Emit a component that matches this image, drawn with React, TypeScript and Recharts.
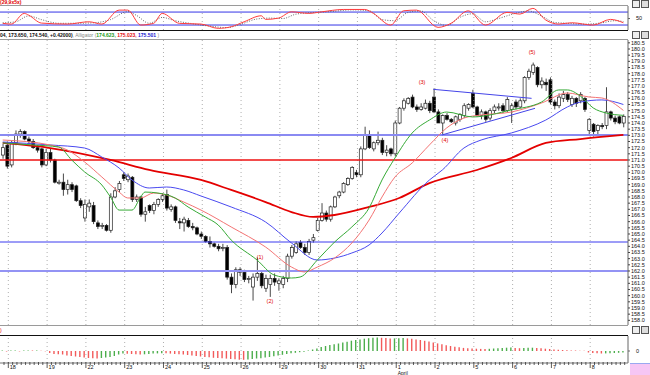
import React from "react";
import {
  ComposedChart,
  LineChart,
  Bar,
  Line,
  XAxis,
  YAxis,
  ReferenceLine,
  ReferenceDot,
  Cell,
} from "recharts";

// day labels on the time axis (9 bars per day)
const dayLabels = ["18", "19", "22", "23", "24", "25", "26", "29", "30", "31", "1", "2", "5", "6", "7", "8"];

// candles: open, high, low, close
const ohlc: number[][] = [
  [171.4, 172.3, 171.1, 172.0], [172.2, 172.5, 170.3, 170.5], [170.6, 172.6, 170.4, 172.4], [172.4, 173.4, 172.2, 173.1],
  [173.1, 173.5, 172.8, 173.3], [173.3, 173.4, 172.6, 172.7], [172.7, 172.9, 172.3, 172.5], [172.5, 172.7, 171.9, 172.0],
  [172.0, 172.2, 171.6, 171.8], [171.9, 172.0, 170.4, 170.6], [170.6, 171.9, 170.5, 171.6], [171.6, 171.9, 170.8, 171.0],
  [171.0, 171.1, 169.1, 169.2], [169.2, 169.4, 169.0, 169.2], [169.2, 169.9, 168.1, 168.6], [168.6, 169.4, 168.2, 169.0],
  [169.0, 169.2, 168.4, 168.6], [168.9, 169.0, 167.6, 167.7], [167.7, 167.9, 167.1, 167.3], [166.3, 167.8, 166.0, 167.4],
  [167.2, 167.8, 166.8, 167.5], [167.3, 167.6, 165.8, 166.0], [165.9, 166.1, 165.4, 165.6], [165.6, 165.9, 165.4, 165.7],
  [165.7, 165.8, 165.2, 165.3], [165.3, 168.3, 165.1, 168.0], [168.0, 168.8, 167.9, 168.5], [168.6, 169.3, 168.4, 169.1],
  [169.8, 170.0, 169.3, 169.5], [169.4, 169.9, 169.2, 169.7], [169.6, 169.7, 167.6, 167.8], [167.8, 168.2, 167.6, 168.0],
  [168.0, 168.1, 166.4, 166.6], [166.6, 167.2, 166.0, 166.8], [167.3, 167.4, 166.7, 166.9], [166.9, 167.6, 166.6, 167.4],
  [167.4, 167.9, 167.2, 167.8], [167.8, 168.3, 167.6, 168.1], [168.2, 168.6, 166.9, 167.1], [167.0, 167.4, 166.8, 167.2],
  [167.2, 167.3, 165.9, 166.1], [166.0, 166.3, 165.4, 165.9], [165.9, 166.4, 165.2, 166.2], [166.1, 166.3, 165.5, 165.6],
  [165.6, 165.9, 165.3, 165.5], [165.5, 165.6, 164.9, 165.0], [165.0, 165.2, 164.6, 164.8], [164.8, 164.9, 164.3, 164.4],
  [164.4, 164.8, 163.9, 164.2], [164.2, 164.3, 163.9, 164.0], [164.0, 164.2, 163.6, 163.8], [163.9, 164.2, 163.6, 163.9],
  [163.9, 164.1, 161.3, 161.5], [161.5, 161.8, 160.2, 160.9], [160.9, 162.3, 160.6, 162.1], [162.1, 162.3, 161.6, 161.9],
  [161.9, 162.1, 161.1, 161.3], [161.3, 161.6, 161.0, 161.4], [160.7, 161.8, 159.6, 161.5], [161.5, 163.1, 161.2, 161.8],
  [161.8, 162.0, 160.6, 160.8], [160.6, 161.7, 160.3, 161.4], [160.9, 161.7, 159.9, 161.4], [161.4, 161.8, 160.8, 161.1],
  [161.0, 161.4, 160.4, 161.2], [160.9, 161.6, 160.6, 161.4], [161.4, 163.4, 161.1, 163.2], [163.2, 164.1, 163.0, 163.9],
  [163.5, 164.4, 163.4, 164.2], [164.3, 164.5, 163.8, 163.9], [163.9, 164.2, 163.3, 163.5], [163.5, 164.6, 163.3, 164.4],
  [164.5, 165.0, 164.3, 164.7], [165.3, 166.3, 165.2, 166.1], [166.1, 167.5, 166.0, 166.7], [166.7, 166.9, 166.0, 166.2],
  [166.2, 167.3, 166.0, 167.2], [167.2, 168.1, 167.1, 168.0], [168.1, 168.5, 167.9, 168.4], [168.4, 169.2, 168.3, 169.1],
  [169.0, 169.6, 168.9, 169.5], [169.5, 170.5, 169.4, 170.4], [170.0, 170.2, 169.6, 169.8], [169.8, 172.1, 169.6, 171.9],
  [171.9, 173.7, 171.8, 173.0], [173.0, 173.4, 171.9, 172.0], [171.9, 172.5, 171.7, 172.4], [172.4, 173.3, 172.2, 172.6],
  [172.6, 172.8, 171.4, 171.6], [171.6, 172.2, 171.3, 171.8], [171.9, 172.0, 171.3, 171.5], [171.5, 174.2, 171.3, 174.0],
  [174.0, 175.3, 173.9, 175.2], [175.2, 176.0, 175.0, 175.8], [175.6, 176.1, 175.5, 176.0], [176.1, 176.3, 175.2, 175.3],
  [175.3, 175.5, 174.9, 175.1], [175.1, 175.6, 175.0, 175.3], [175.2, 175.9, 175.1, 175.6], [175.6, 175.8, 174.8, 175.0],
  [176.1, 176.8, 174.8, 174.9], [174.9, 175.1, 174.0, 174.0], [174.0, 174.7, 173.0, 174.6], [174.6, 174.8, 174.2, 174.3],
  [174.3, 174.4, 174.0, 174.1], [174.0, 174.6, 173.8, 174.5], [174.3, 174.8, 174.1, 174.7], [174.6, 175.6, 174.4, 175.4],
  [175.2, 175.6, 175.0, 175.5], [176.4, 176.7, 175.2, 175.3], [175.3, 175.4, 174.5, 174.6], [174.6, 175.1, 174.3, 174.9],
  [174.9, 175.0, 174.1, 174.3], [174.4, 175.2, 174.2, 175.0], [175.0, 175.5, 174.8, 175.3], [175.3, 175.6, 175.0, 175.3],
  [175.4, 175.6, 174.8, 175.0], [175.0, 176.1, 174.9, 175.9], [175.1, 175.6, 174.0, 175.4], [175.7, 175.9, 175.1, 175.3],
  [175.3, 176.0, 175.2, 175.8], [175.8, 177.8, 175.6, 177.7], [177.7, 178.4, 177.5, 178.2], [178.1, 178.9, 177.9, 178.7],
  [178.5, 178.6, 176.9, 177.1], [177.1, 177.7, 176.8, 177.4], [177.3, 177.6, 176.6, 177.1], [177.5, 177.7, 175.5, 175.7],
  [175.7, 175.9, 175.1, 175.4], [175.4, 176.4, 175.2, 176.1], [176.0, 176.6, 175.7, 176.3], [176.3, 176.5, 175.7, 175.9],
  [175.5, 176.2, 175.3, 176.0], [176.0, 176.1, 175.3, 175.6], [175.8, 176.5, 175.6, 176.3], [176.0, 176.1, 174.9, 175.1],
  [173.4, 174.4, 173.0, 174.3], [173.9, 174.0, 172.9, 173.3], [173.4, 173.9, 173.1, 173.8], [173.8, 174.0, 173.5, 173.7],
  [173.8, 176.9, 173.5, 174.9], [174.9, 175.0, 174.2, 174.4], [174.4, 174.6, 173.9, 174.1], [174.5, 174.6, 173.9, 174.0],
  [174.0, 174.7, 173.65, 174.54],
];

// alligator lines and long MA, read at [bar, price]
const lips = [
  [0, 172.38], [7, 172.22], [13, 172.05], [16, 171.0], [19, 170.03], [23, 168.97], [25, 168.0], [27, 166.94],
  [30, 166.94], [32, 168.0], [33, 168.4], [36, 168.32], [40, 167.92], [43, 167.19], [47, 166.38], [50, 165.73],
  [53, 164.51], [59, 162.89], [63, 161.67], [67, 161.43], [69, 161.51], [73, 162.89], [77, 164.35], [81, 165.57],
  [85, 167.11], [88, 169.38], [91, 171.16], [95, 173.19], [99, 174.24], [103, 174.89], [109, 174.49], [118, 175.06],
  [125, 175.7], [129, 176.68], [131, 176.68], [134, 176.19], [137, 175.22], [140, 174.81], [144, 174.62],
];
const teeth = [
  [0, 172.62], [11, 172.22], [15, 171.81], [19, 170.84], [23, 169.62], [27, 168.4], [29, 167.92], [32, 167.92],
  [35, 168.32], [38, 168.16], [42, 167.59], [46, 166.94], [53, 165.57], [61, 163.94], [67, 162.32], [70, 161.92],
  [73, 162.32], [77, 163.05], [81, 164.27], [85, 166.13], [88, 168.0], [91, 169.62], [95, 170.76], [99, 172.22],
  [103, 173.6], [107, 174.4], [111, 174.65], [118, 174.89], [125, 175.62], [131, 176.43], [136, 176.11], [139, 176.03],
  [144, 175.02],
];
const jaw = [
  [0, 172.46], [11, 172.22], [19, 171.97], [23, 171.24], [27, 170.35], [30, 169.38], [34, 168.73], [38, 168.81],
  [42, 168.57], [46, 168.08], [53, 167.19], [61, 165.97], [67, 164.27], [73, 162.89], [77, 163.05], [81, 163.46],
  [85, 164.11], [88, 165.08], [92, 166.7], [99, 169.38], [102, 170.19], [107, 171.97], [111, 172.62], [118, 173.19],
  [126, 174.24], [131, 175.3], [134, 175.7], [139, 175.87], [144, 175.5],
];
const longMa = [
  [0, 172.38], [11, 171.97], [25, 171.0], [34, 170.19], [46, 169.38], [53, 168.57], [61, 167.59], [67, 166.78],
  [72, 166.38], [77, 166.54], [85, 167.19], [92, 167.92], [99, 169.13], [110, 170.19], [118, 171.16], [126, 172.38],
  [134, 172.7], [144, 173.03],
];

// horizontal levels
const levels = [
  { p: 173.03, c: "#8a8af2", w: 2 },
  { p: 171.0, c: "#ee1111", w: 1.5 },
  { p: 164.35, c: "#3b3bef", w: 1 },
  { p: 162.0, c: "#9393f4", w: 2.2 },
];

// trend lines [bar, price] -> [bar, price]
const trends = [
  [[99.9, 176.73], [122.7, 176.0]],
  [[101.9, 173.03], [123.5, 175.19]],
];

// wave counts
const waves = [
  { t: "(1)", i: 59.7, p: 163.1 },
  { t: "(2)", i: 62.0, p: 159.6 },
  { t: "(3)", i: 97.3, p: 177.35 },
  { t: "(4)", i: 102.6, p: 172.6 },
  { t: "(5)", i: 122.8, p: 179.75 },
];

// stochastic %K and %D
const stochK = [
  [0, 27.7], [2, 24.5], [5, 73.8], [6, 66], [9, 29], [15, 24.5], [20, 35], [23, 24.5], [27, 89], [29, 89],
  [32, 20], [35, 27.7], [37, 73.8], [41, 27.7], [46, 24.5], [50, 4.6], [53, 12], [56, 35], [60, 62.8], [61, 46],
  [64, 52], [67, 81], [71, 73.8], [74, 81], [79, 92], [84, 92], [86, 73.8], [90, 19.8], [93, 85.8], [96, 89],
  [101, 9.2], [104, 27.7], [108, 85.8], [112, 19.8], [117, 78.4], [120, 70.6], [123, 97], [126, 43], [129, 24.5],
  [132, 30.5], [137, 19.8], [141, 46], [144, 30.5],
];
const stochD = [
  [0, 30], [3, 35], [6, 62], [9, 45], [13, 28], [17, 28], [21, 30], [25, 45], [29, 82], [31, 65], [34, 28],
  [37, 55], [40, 40], [44, 26], [48, 15], [52, 8], [55, 22], [59, 48], [62, 52], [65, 50], [68, 70], [72, 78],
  [76, 82], [81, 90], [85, 86], [88, 45], [91, 40], [94, 78], [97, 85], [100, 40], [103, 18], [106, 55], [109, 72],
  [112, 35], [115, 50], [119, 74], [122, 85], [125, 62], [128, 32], [131, 28], [135, 24], [139, 30], [142, 40],
  [144, 36],
];

// awesome oscillator, one per bar
const ao = [
  0.5, -0.5, 0.5, 0.6, -0.4, 0.5, 0.6, 0.4, 0.5, 0.3, -0.3,
  -2, -3, -3.3, -3.5, -4.5, -5, -5.5, -6, -6.5, -7, -7.3, -7.5,
  -7, -6.5, -6, -5, -3.5, -2.5,
  -2.8, -3, -3.2, -3.5, -3.3, -3, -2.6, -2.4, -2.2,
  -2.3, -2.6, -3, -3.3, -3.6, -4, -4.5, -5, -5.5, -6, -6.3, -6.8, -7, -7.3, -7.6, -8, -8.3, -8.7, -8.8,
  -8.5, -8, -7.5, -7.2, -6.5, -6, -5.2, -4.5, -3.8, -3, -2.2, -1.8, -1.2, -0.8,
  0.5, 1.5, 2.5, 4, 5, 6, 6.7, 7.5, 8.5, 9.3, 10.3, 11, 11.5, 12.3, 12.8, 13.3, 13.5,
  13.2, 12.9, 12.5, 12.6, 12.8, 13, 12.6, 12.2, 11.6, 11, 10.2, 9.4, 8.5, 7.6, 6.7, 5.8, 5, 4.3, 3.7, 3.1, 2.7, 2.5, 2.3, 2.1, 2.0,
  2.2, 2.5, 2.8, 3.1, 3.3, 3.4, 3.1, 2.8, 3.0, 3.2, 3.3, 3.0, 2.7, 2.3, 2.0, 1.6, 1.3, 1.0, 0.8, 0.6, 0.5, 0.3, 0.2,
  -1.5, -2, -2.3, -2.5, -2.4, -2.2, -2.0, -1.8, -1.6,
];

const FONT = "'Liberation Sans', Arial, sans-serif";
const X_DOMAIN: [number, number] = [-0.63, 145.07];
const dayLines = dayLabels.map((_, d) => 1.3 + 9 * d);
const barTicks = Array.from({ length: 145 }, (_, k) => k + 0.3);
const priceTicks = Array.from({ length: 46 }, (_, k) => 158 + k * 0.5);

const rows = ohlc.map(([o, h, l, c], i) => ({
  i, o, h, l, c, ao: ao[i],
  lips: null as number | null, teeth: null as number | null, jaw: null as number | null, ma: null as number | null,
}));
lips.forEach(([i, v]) => (rows[i].lips = v));
teeth.forEach(([i, v]) => (rows[i].teeth = v));
jaw.forEach(([i, v]) => (rows[i].jaw = v));
longMa.forEach(([i, v]) => (rows[i].ma = v));

const stochRows = ohlc.map((_, i) => ({ i, k: null as number | null, d: null as number | null }));
stochK.forEach(([i, v]) => (stochRows[i].k = v));
stochD.forEach(([i, v]) => (stochRows[i].d = v));

const Candle = (props: any) => {
  const { x, y, width, height, payload } = props;
  if (x == null || !payload) return null;
  const top = Math.min(y, y + height);
  const hh = Math.abs(height);
  const k = hh / (payload.h - payload.l || 1);
  const up = payload.c >= payload.o;
  const bTop = top + (payload.h - Math.max(payload.o, payload.c)) * k;
  const bH = Math.max(1, Math.abs(payload.o - payload.c) * k);
  const cx = x + width / 2;
  return (
    <g>
      <line x1={cx} x2={cx} y1={top} y2={top + hh} stroke="#333" strokeWidth={0.9} />
      <rect x={x} y={bTop} width={width} height={bH} fill={up ? "#fff" : "#000"} stroke="#222" strokeWidth={0.7} />
    </g>
  );
};

const TimeTick = (props: any) => {
  const { x, y, payload } = props;
  const k = Math.round(payload.value - 0.3);
  const isDay = k >= 1 && (k - 1) % 9 === 0;
  const d = (k - 1) / 9;
  return (
    <g>
      <line x1={x} x2={x} y1={y - 1} y2={y + (isDay ? 5 : 2)} stroke="#333" strokeWidth={0.8} />
      {isDay && dayLabels[d] && (
        <text x={x + 1.5} y={y + 6} fontSize={5.5} fill="#111" fontFamily={FONT}>{dayLabels[d]}</text>
      )}
      {isDay && d === 10 && (
        <text x={x + 1.5} y={y + 11.5} fontSize={5} fill="#111" fontFamily={FONT}>April</text>
      )}
    </g>
  );
};

const grid = () =>
  dayLines.map((v) => (
    <ReferenceLine key={"g" + v} x={v} stroke="#9a9a9a" strokeDasharray="1 3" strokeWidth={0.8} />
  ));

const hline = (top: number, color: string, h: number) => (
  <div style={{ position: "absolute", left: 0, top, width: 628, height: h, background: color }} />
);

const btn = (top: number) => (
  <div style={{ position: "absolute", left: 632, top, display: "flex", gap: 1 }}>
    <div style={{ width: 6, height: 6, border: "1px solid #555", background: "#eee" }} />
    <div style={{ width: 6, height: 6, border: "1px solid #555", background: "#ddd" }} />
  </div>
);

export default function App() {
  return (
    <div style={{ position: "absolute", left: 0, top: 0, width: 650, height: 375, background: "#fff", overflow: "hidden", fontFamily: FONT }}>
      {/* stochastic panel */}
      <div style={{ position: "absolute", left: 0, top: -1, fontSize: 5, color: "#e00000", fontWeight: 700 }}>(29,9x5x)</div>
      {hline(5, "#9a9a9a", 1)}
      <div style={{ position: "absolute", left: 0, top: 6 }}>
        <LineChart width={650} height={24} data={stochRows} margin={{ top: 0, right: 0, bottom: 0, left: 0 }}>
          <XAxis dataKey="i" type="number" domain={X_DOMAIN} hide allowDataOverflow />
          <YAxis orientation="right" domain={[-3, 108]} ticks={[50]} width={22} tick={{ fontSize: 5.5, fill: "#111" }}
            tickSize={2} tickMargin={6} axisLine={{ stroke: "#666" }} tickLine={{ stroke: "#666" }} allowDataOverflow />
          {grid()}
          <ReferenceLine y={80} stroke="#3434e6" strokeWidth={1} />
          <ReferenceLine y={20} stroke="#3434e6" strokeWidth={1} />
          <Line dataKey="d" type="monotone" connectNulls dot={false} stroke="#555" strokeWidth={0.9} strokeDasharray="1 1.5" isAnimationActive={false} />
          <Line dataKey="k" type="monotone" connectNulls dot={false} stroke="#ff3c3c" strokeWidth={1} isAnimationActive={false} />
        </LineChart>
      </div>
      {hline(29.5, "#111", 1.5)}
      {btn(0)}
      {btn(31)}

      {/* title row */}
      <div style={{ position: "absolute", left: 0, top: 32, fontSize: 5, lineHeight: "6px", whiteSpace: "nowrap" }}>
        <span style={{ fontWeight: 700, color: "#111" }}>04, 173.650, 174.540, +0.42000)</span>
        <span style={{ color: "#888" }}>, Alligator (</span>
        <span style={{ color: "#1b9a1b", fontWeight: 700 }}>174.623, </span>
        <span style={{ color: "#e51010", fontWeight: 700 }}>175.023, </span>
        <span style={{ color: "#2020d0", fontWeight: 700 }}>175.501</span>
        <span style={{ color: "#888" }}> )</span>
      </div>
      {hline(39, "#9a9a9a", 1)}

      {/* price panel */}
      <div style={{ position: "absolute", left: 0, top: 40 }}>
        <ComposedChart width={650} height={285} data={rows} margin={{ top: 0, right: 0, bottom: 0, left: 0 }}>
          <XAxis dataKey="i" type="number" domain={X_DOMAIN} hide allowDataOverflow />
          <YAxis orientation="right" domain={[157.62, 180.73]} ticks={priceTicks} interval={0} width={22}
            tick={{ fontSize: 5.5, fill: "#111", fontFamily: FONT }} tickSize={2} tickMargin={1}
            tickFormatter={(v: number) => v.toFixed(1)} axisLine={{ stroke: "#666" }} tickLine={{ stroke: "#444" }} allowDataOverflow />
          {grid()}
          {levels.map((l) => (
            <ReferenceLine key={l.p} y={l.p} stroke={l.c} strokeWidth={l.w} />
          ))}
          <Line dataKey="ma" type="monotone" connectNulls dot={false} stroke="#e40000" strokeWidth={1.8} isAnimationActive={false} />
          <Line dataKey="jaw" type="monotone" connectNulls dot={false} stroke="#4a4af0" strokeWidth={1} isAnimationActive={false} />
          <Line dataKey="teeth" type="monotone" connectNulls dot={false} stroke="#f47474" strokeWidth={1} isAnimationActive={false} />
          <Line dataKey="lips" type="monotone" connectNulls dot={false} stroke="#36aa36" strokeWidth={1} isAnimationActive={false} />
          {trends.map((t, n) => (
            <ReferenceLine key={"t" + n} segment={[{ x: t[0][0], y: t[0][1] }, { x: t[1][0], y: t[1][1] }]} stroke="#4444e8" strokeWidth={1} />
          ))}
          <Bar dataKey={(d: any) => [d.l, d.h]} barSize={3} shape={<Candle />} isAnimationActive={false} />
          {waves.map((w) => (
            <ReferenceDot key={w.t} x={w.i} y={w.p} r={0}
              shape={(p: any) => (
                <text x={p.cx} y={p.cy} textAnchor="middle" dominantBaseline="central" fontSize={5.5} fill="#e00000" fontFamily={FONT}>{w.t}</text>
              )} />
          ))}
        </ComposedChart>
      </div>
      {hline(325, "#9a9a9a", 1)}
      {btn(326)}
      <div style={{ position: "absolute", left: 0, top: 327, fontSize: 5, color: "#e00000" }}>)</div>
      {hline(334.5, "#111", 1.5)}

      {/* oscillator panel + time axis */}
      <div style={{ position: "absolute", left: 0, top: 336 }}>
        <ComposedChart width={650} height={39} data={rows} margin={{ top: 0, right: 0, bottom: 0, left: 0 }}>
          <XAxis dataKey="i" type="number" domain={X_DOMAIN} ticks={barTicks} interval={0} height={12}
            tick={<TimeTick />} tickLine={false} tickSize={0} tickMargin={0} axisLine={{ stroke: "#777" }} allowDataOverflow />
          <YAxis orientation="right" domain={[-12, 15]} ticks={[0]} width={22} tick={{ fontSize: 5.5, fill: "#111" }}
            tickSize={2} tickMargin={6} axisLine={{ stroke: "#666" }} tickLine={{ stroke: "#666" }} allowDataOverflow />
          {grid()}
          <Bar dataKey="ao" barSize={1.4} isAnimationActive={false}>
            {rows.map((r, i) => (
              <Cell key={i} fill={i > 0 && r.ao < rows[i - 1].ao ? "#f25a5a" : "#4cae4c"} />
            ))}
          </Bar>
        </ComposedChart>
      </div>
      <div style={{ position: "absolute", left: 630, top: 363, width: 20, height: 12, background: "#f6c6f4", borderTop: "1px solid #9aa8f0" }} />
    </div>
  );
}
